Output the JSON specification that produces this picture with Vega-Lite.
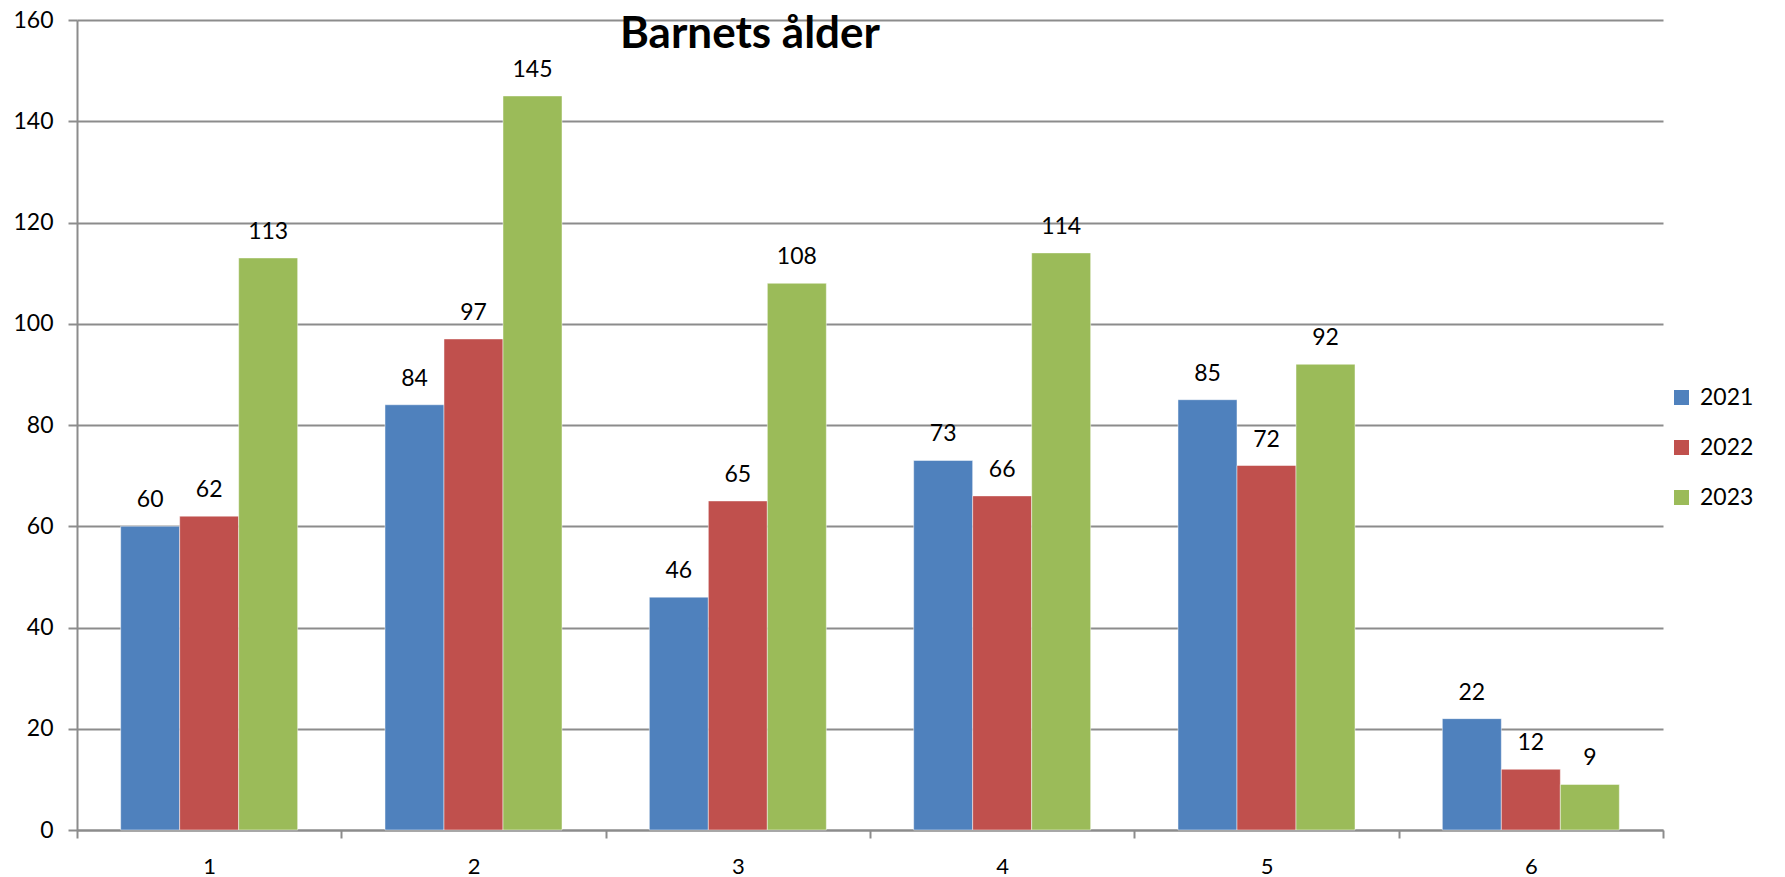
{
  "$schema": "https://vega.github.io/schema/vega-lite/v6.json",
  "width": 1586,
  "height": 810,
  "autosize": {"type": "none"},
  "padding": {"left": 77, "top": 20, "right": 122, "bottom": 47},
  "background": "white",
  "config": {
    "font": "Lato",
    "view": {"stroke": null}
  },
  "title": {
    "text": "Barnets ålder",
    "font": "Lato",
    "fontSize": 44,
    "fontWeight": "bold",
    "color": "#000000",
    "anchor": "middle",
    "dx": -120,
    "baseline": "alphabetic",
    "offset": -83
  },
  "data": {
    "values": [
      {"age": "1", "year": "2021", "count": 60},
      {"age": "1", "year": "2022", "count": 62},
      {"age": "1", "year": "2023", "count": 113},
      {"age": "2", "year": "2021", "count": 84},
      {"age": "2", "year": "2022", "count": 97},
      {"age": "2", "year": "2023", "count": 145},
      {"age": "3", "year": "2021", "count": 46},
      {"age": "3", "year": "2022", "count": 65},
      {"age": "3", "year": "2023", "count": 108},
      {"age": "4", "year": "2021", "count": 73},
      {"age": "4", "year": "2022", "count": 66},
      {"age": "4", "year": "2023", "count": 114},
      {"age": "5", "year": "2021", "count": 85},
      {"age": "5", "year": "2022", "count": 72},
      {"age": "5", "year": "2023", "count": 92},
      {"age": "6", "year": "2021", "count": 22},
      {"age": "6", "year": "2022", "count": 12},
      {"age": "6", "year": "2023", "count": 9}
    ]
  },
  "encoding": {
    "x": {
      "field": "age",
      "type": "ordinal",
      "scale": {"paddingInner": 0, "paddingOuter": 0},
      "axis": {
        "title": null,
        "labelAngle": 0,
        "tickBand": "extent",
        "grid": false,
        "domainColor": "#8c8c8c",
        "domainWidth": 2,
        "tickColor": "#8c8c8c",
        "tickWidth": 2,
        "tickSize": 8,
        "labelFontSize": 22,
        "labelColor": "#000000",
        "labelPadding": 18
      }
    },
    "xOffset": {
      "field": "year",
      "type": "nominal",
      "scale": {"paddingInner": 0, "paddingOuter": 0.74}
    },
    "y": {
      "field": "count",
      "type": "quantitative",
      "scale": {"domain": [0, 160], "nice": false},
      "axis": {
        "title": null,
        "values": [0, 20, 40, 60, 80, 100, 120, 140, 160],
        "grid": true,
        "gridColor": "#8c8c8c",
        "gridWidth": 2,
        "domainColor": "#8c8c8c",
        "domainWidth": 2,
        "tickColor": "#8c8c8c",
        "tickWidth": 2,
        "tickSize": 9,
        "labelFontSize": 23,
        "labelColor": "#000000",
        "labelPadding": 15
      }
    }
  },
  "layer": [
    {
      "mark": {"type": "bar", "stroke": "#ffffff", "strokeWidth": 0.8, "strokeOpacity": 0.6},
      "encoding": {
        "color": {
          "field": "year",
          "type": "nominal",
          "scale": {"domain": ["2021", "2022", "2023"], "range": ["#4F81BD", "#C0504D", "#9BBB59"]},
          "legend": {
            "title": null,
            "orient": "none",
            "legendX": 1593,
            "legendY": 366,
            "direction": "vertical",
            "symbolType": "square",
            "symbolSize": 225,
            "symbolStrokeWidth": 0,
            "labelFontSize": 23,
            "labelColor": "#000000",
            "labelOffset": 7,
            "rowPadding": 26,
            "padding": 0
          }
        }
      }
    },
    {
      "mark": {"type": "text", "baseline": "alphabetic", "dy": -19, "fontSize": 23, "color": "#000000"},
      "encoding": {
        "text": {"field": "count", "type": "quantitative"}
      }
    }
  ]
}
